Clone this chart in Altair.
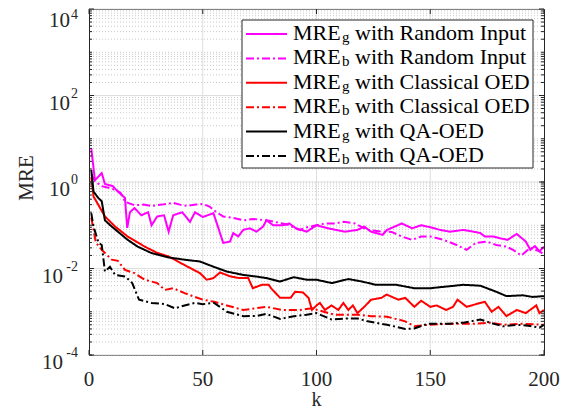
import altair as alt
import pandas as pd

FONT = "Liberation Serif"
W, H = 455, 346

names = ["Rg", "Rb", "Cg", "Cb", "Qg", "Qb"]
subs = ["g", "b", "g", "b", "g", "b"]
descs = ["with Random Input", "with Random Input", "with Classical OED",
         "with Classical OED", "with QA-OED", "with QA-OED"]
colors = ["#ff00ff", "#ff00ff", "#ff0000", "#ff0000", "#000000", "#000000"]
dashes = [[1, 0], [8, 3, 2, 3], [1, 0], [8, 3, 2, 3], [1, 0], [8, 3, 2, 3]]

rg_k = [1, 2.6, 5.6, 7, 10.5, 12.7, 15.8, 16.8, 18, 20, 23, 26, 27.5, 30, 33, 35, 37, 41, 44.4, 46.6, 50,
        54.7, 56.9, 59, 62, 63.4, 65.6, 67.8, 70.7, 73.6, 76.5, 78, 81, 85, 88, 91, 95.7, 100, 105, 112.5,
        118, 121, 124, 129, 131, 137.5, 142, 146, 150, 154.3, 158.7, 164.5, 169, 172, 174, 177.7, 180.7,
        184, 188, 192, 194, 196, 198, 200]
rg_v = [6.0, 1.1, 1.6, 0.9, 0.8, 0.6, 0.43, 0.087, 0.2, 0.25, 0.17, 0.2, 0.1, 0.16, 0.17, 0.071, 0.17, 0.2,
        0.12, 0.2, 0.155, 0.19, 0.085, 0.039, 0.042, 0.066, 0.055, 0.078, 0.085, 0.071, 0.093, 0.13, 0.1,
        0.1, 0.11, 0.085, 0.071, 0.1, 0.085, 0.071, 0.078, 0.093, 0.071, 0.06, 0.078, 0.11, 0.085, 0.1,
        0.09, 0.078, 0.071, 0.078, 0.071, 0.066, 0.055, 0.055, 0.05, 0.046, 0.063, 0.042, 0.027, 0.033,
        0.025, 0.032]

rb_k = [1, 3, 5.6, 8, 12, 14, 15.8, 20, 24, 27.5, 32, 37, 40, 43, 47, 50, 53, 56, 59, 63, 67.8, 72, 78,
        85, 88, 92.5, 96, 100, 104, 108, 112, 117, 120, 122.5, 128.6, 133, 137.5, 142, 146, 150, 155.8,
        161.6, 166, 170, 174.8, 179, 183.5, 186.4, 190, 193.9, 198, 200]
rb_v = [1.5, 1.0, 0.8, 0.75, 0.65, 0.55, 0.35, 0.29, 0.3, 0.28, 0.3, 0.33, 0.3, 0.28, 0.3, 0.31, 0.27, 0.2,
        0.16, 0.15, 0.13, 0.14, 0.13, 0.11, 0.1, 0.078, 0.09, 0.1, 0.11, 0.11, 0.12, 0.11, 0.09, 0.078,
        0.071, 0.07, 0.055, 0.046, 0.055, 0.055, 0.046, 0.035, 0.027, 0.039, 0.042, 0.035, 0.032, 0.027,
        0.02, 0.03, 0.025, 0.021]

cg_k = [1, 2, 4.2, 7, 11.5, 17, 24.5, 30, 35, 42, 48.8, 51.7, 54.7, 57.6, 62, 66, 70, 72, 76, 79, 80, 84,
        88.6, 90.6, 94, 96.5, 98, 100, 101.5, 103.7, 106.6, 109.6, 111.8, 114, 116, 118, 121, 124, 128.6,
        130.8, 136, 139, 143, 146, 150, 152.8, 157, 160, 162, 166, 172, 174, 177, 180, 183.5, 188, 192,
        196.6, 198, 200]
cg_v = [1.3, 0.46, 0.29, 0.16, 0.093, 0.055, 0.032, 0.023, 0.019, 0.012, 0.0078, 0.0055, 0.006, 0.0081,
        0.0066, 0.006, 0.006, 0.0035, 0.0042, 0.0042, 0.0035, 0.0021, 0.0021, 0.0029, 0.0028, 0.0021,
        0.0011, 0.0014, 0.0016, 0.0011, 0.0014, 0.0011, 0.0016, 0.0011, 0.0014, 0.00093, 0.0013, 0.0019,
        0.0021, 0.0025, 0.0019, 0.0021, 0.0013, 0.0018, 0.0013, 0.0014, 0.0011, 0.0013, 0.0019, 0.0013,
        0.0016, 0.0017, 0.001, 0.0013, 0.00079, 0.0011, 0.00093, 0.0014, 0.00093, 0.0011]

cb_k = [1, 3, 5.6, 10, 12.7, 15.8, 20, 24.5, 30, 33.4, 37, 42, 46.6, 50, 55, 60.6, 67.8, 78, 85, 92.5, 98,
        108, 118, 124, 131, 139, 143, 149, 160, 170, 176, 182, 190, 200]
cb_v = [0.15, 0.04, 0.027, 0.016, 0.015, 0.0093, 0.0078, 0.0055, 0.0046, 0.0032, 0.0035, 0.0027, 0.0022,
        0.0019, 0.0017, 0.0014, 0.0011, 0.0013, 0.0011, 0.0011, 0.0012, 0.00085, 0.00085, 0.00079,
        0.00077, 0.0006, 0.00046, 0.0005, 0.00053, 0.00053, 0.00056, 0.0005, 0.00053, 0.0005]

qg_k = [1, 2, 4.2, 5.6, 7, 10, 12.7, 17, 21.4, 27.3, 35, 42, 48.8, 54.7, 60.6, 67.8, 73.6, 78, 84, 90,
        95.7, 100, 106.7, 114, 120, 126, 135, 143, 150, 158.7, 164.5, 172, 179, 183.5, 190.7, 195, 200]
qg_v = [1.9, 0.6, 0.42, 0.36, 0.13, 0.093, 0.071, 0.046, 0.032, 0.023, 0.018, 0.016, 0.0145, 0.011,
        0.0085, 0.0071, 0.0065, 0.006, 0.005, 0.0063, 0.0055, 0.0055, 0.0046, 0.0057, 0.005, 0.0042,
        0.0042, 0.0035, 0.0035, 0.0039, 0.0042, 0.004, 0.0029, 0.0023, 0.0024, 0.0022, 0.0023]

qb_k = [1, 2, 4.2, 5.6, 7, 9.2, 11.5, 16, 19, 22, 27.5, 33.4, 37.8, 42, 46.6, 50, 55, 60.6, 67.8, 73.6,
        78, 84, 90, 95.7, 100, 106.7, 114, 118, 122.5, 131, 139, 143, 149, 158.7, 164.5, 172, 176.3, 182,
        188, 193.9, 198, 200]
qb_v = [0.19, 0.093, 0.039, 0.035, 0.0085, 0.011, 0.0071, 0.0065, 0.0046, 0.0019, 0.0016, 0.0015, 0.0012,
        0.0014, 0.0016, 0.0015, 0.0016, 0.001, 0.00079, 0.0008, 0.00089, 0.00068, 0.00079, 0.00085,
        0.00093, 0.00066, 0.0007, 0.0007, 0.0006, 0.0005, 0.0004, 0.00041, 0.00053, 0.00053, 0.00056,
        0.00066, 0.00056, 0.00046, 0.0005, 0.00047, 0.00043, 0.0005]

x_ticks = [0, 50, 100, 150, 200]
y_major = [1e-4, 1e-2, 1e0, 1e2, 1e4]
y_exps = ["-4", "-2", "0", "2", "4"]
y_minor = [m * 10.0 ** n for n in range(-4, 4) for m in range(1, 10)]

rows = []
for nm, ks, vs in zip(names, [rg_k, rb_k, cg_k, cb_k, qg_k, qb_k], [rg_v, rb_v, cg_v, cb_v, qg_v, qb_v]):
    for k, v in zip(ks, vs):
        rows.append({"k": k, "v": v, "s": nm})
df = pd.DataFrame(rows)

xs = alt.Scale(domain=[0, 200], nice=False, zero=False)
ys = alt.Scale(type="log", domain=[1e-4, 1e4], nice=False)
cs = alt.Scale(domain=names, range=colors)
ds = alt.Scale(domain=names, range=dashes)

minor_df = pd.DataFrame({"v": y_minor})
major_df = pd.DataFrame({"v": y_major, "e": y_exps})
xt_df = pd.DataFrame({"k": x_ticks})
xg_df = pd.DataFrame({"k": x_ticks[1:-1]})

minor_grid = alt.Chart(minor_df).mark_rule(color="#bdbdbd", strokeWidth=0.8, strokeDash=[1, 2]).encode(
    y=alt.Y("v:Q", scale=ys, axis=None))
major_grid = alt.Chart(major_df).mark_rule(color="#dedede", strokeWidth=1).encode(
    y=alt.Y("v:Q", scale=ys, axis=None))
x_grid = alt.Chart(xg_df).mark_rule(color="#dedede", strokeWidth=1).encode(
    x=alt.X("k:Q", scale=xs, axis=None))

lines = alt.Chart(df).mark_line(strokeWidth=2, clip=True).encode(
    x=alt.X("k:Q", scale=xs, axis=None),
    y=alt.Y("v:Q", scale=ys, axis=None),
    color=alt.Color("s:N", scale=cs, legend=None),
    strokeDash=alt.StrokeDash("s:N", scale=ds, legend=None),
    order=alt.Order("k:Q"),
)

TC = "#262626"
tick_l_min = alt.Chart(minor_df).mark_rule(color=TC, strokeWidth=1).encode(
    y=alt.Y("v:Q", scale=ys), x=alt.value(0), x2=alt.value(3))
tick_r_min = alt.Chart(minor_df).mark_rule(color=TC, strokeWidth=1).encode(
    y=alt.Y("v:Q", scale=ys), x=alt.value(W - 3), x2=alt.value(W))
tick_l_maj = alt.Chart(major_df).mark_rule(color=TC, strokeWidth=1).encode(
    y=alt.Y("v:Q", scale=ys), x=alt.value(0), x2=alt.value(5))
tick_r_maj = alt.Chart(major_df).mark_rule(color=TC, strokeWidth=1).encode(
    y=alt.Y("v:Q", scale=ys), x=alt.value(W - 5), x2=alt.value(W))
tick_b = alt.Chart(xt_df).mark_rule(color=TC, strokeWidth=1).encode(
    x=alt.X("k:Q", scale=xs), y=alt.value(H - 5), y2=alt.value(H))
tick_t = alt.Chart(xt_df).mark_rule(color=TC, strokeWidth=1).encode(
    x=alt.X("k:Q", scale=xs), y=alt.value(0), y2=alt.value(5))


def ylabels(filt, dy_base, dy_exp):
    base = alt.Chart(major_df).transform_filter(filt).transform_calculate(
        px="indexof(datum.e, '-') == 0 ? -26 : -19",
    ).mark_text(align="right", baseline="alphabetic", fontSize=21, font=FONT, color=TC,
                dy=dy_base).encode(
        y=alt.Y("v:Q", scale=ys), x=alt.X("px:Q", scale=None), text=alt.value("10"))
    exp = alt.Chart(major_df).transform_filter(filt).mark_text(
        align="right", baseline="alphabetic", fontSize=14, font=FONT, color=TC, dy=dy_exp).encode(
        y=alt.Y("v:Q", scale=ys), x=alt.value(-11), text="e:N")
    return [base, exp]


ylab_layers = ylabels("datum.v < 10000", 14, 2) + ylabels("datum.v >= 10000", 18, 10)

xlab = alt.Chart(xt_df).mark_text(align="center", baseline="alphabetic", fontSize=21, font=FONT,
                                   color=TC).encode(
    x=alt.X("k:Q", scale=xs), y=alt.value(H + 31), text=alt.Text("k:Q"))
xtitle = alt.Chart(pd.DataFrame({"t": ["k"]})).mark_text(
    align="center", baseline="alphabetic", fontSize=20, font=FONT, color=TC).encode(
    x=alt.value(W / 2), y=alt.value(H + 51), text="t:N")
ytitle = alt.Chart(pd.DataFrame({"t": ["MRE"]})).mark_text(
    align="center", baseline="alphabetic", fontSize=21, font=FONT, color=TC, angle=270).encode(
    x=alt.value(-56), y=alt.value(169), text="t:N")

leg_df = pd.DataFrame({"s": names, "sub": subs, "d": descs, "i": list(range(6))})
leg_box = alt.Chart(pd.DataFrame({"a": [0]})).mark_rect(
    fill="white", stroke=TC, strokeWidth=1).encode(
    x=alt.value(153), x2=alt.value(444), y=alt.value(11), y2=alt.value(159))
leg_base = alt.Chart(leg_df).transform_calculate(ly="25 + 24.4 * datum.i")
leg_lines = leg_base.mark_rule(strokeWidth=2).encode(
    x=alt.value(157), x2=alt.value(198), y=alt.Y("ly:Q", scale=None),
    color=alt.Color("s:N", scale=cs, legend=None),
    strokeDash=alt.StrokeDash("s:N", scale=ds, legend=None))
leg_mre = leg_base.mark_text(align="left", baseline="alphabetic", fontSize=22, font=FONT,
                             color="black", dy=6).encode(
    x=alt.value(204), y=alt.Y("ly:Q", scale=None), text=alt.value("MRE"))
leg_sub = leg_base.mark_text(align="left", baseline="alphabetic", fontSize=15, font=FONT,
                             color="black", dy=8).encode(
    x=alt.value(253), y=alt.Y("ly:Q", scale=None), text="sub:N")
leg_txt = leg_base.mark_text(align="left", baseline="alphabetic", fontSize=22, font=FONT,
                             color="black", dy=6).encode(
    x=alt.value(266), y=alt.Y("ly:Q", scale=None), text="d:N")

chart = alt.layer(
    minor_grid, major_grid, x_grid, lines,
    tick_l_min, tick_r_min, tick_l_maj, tick_r_maj, tick_b, tick_t,
    leg_box, leg_lines, leg_mre, leg_sub, leg_txt,
    *ylab_layers, xlab, xtitle, ytitle,
).properties(
    width=W, height=H,
    autosize=alt.AutoSizeParams(type="none"),
    padding={"left": 81, "top": 1, "right": 20, "bottom": 55},
    background="white",
).configure_view(stroke=TC, strokeWidth=1)

chart.save("out.html", embed_options={"renderer": "svg", "actions": False})
